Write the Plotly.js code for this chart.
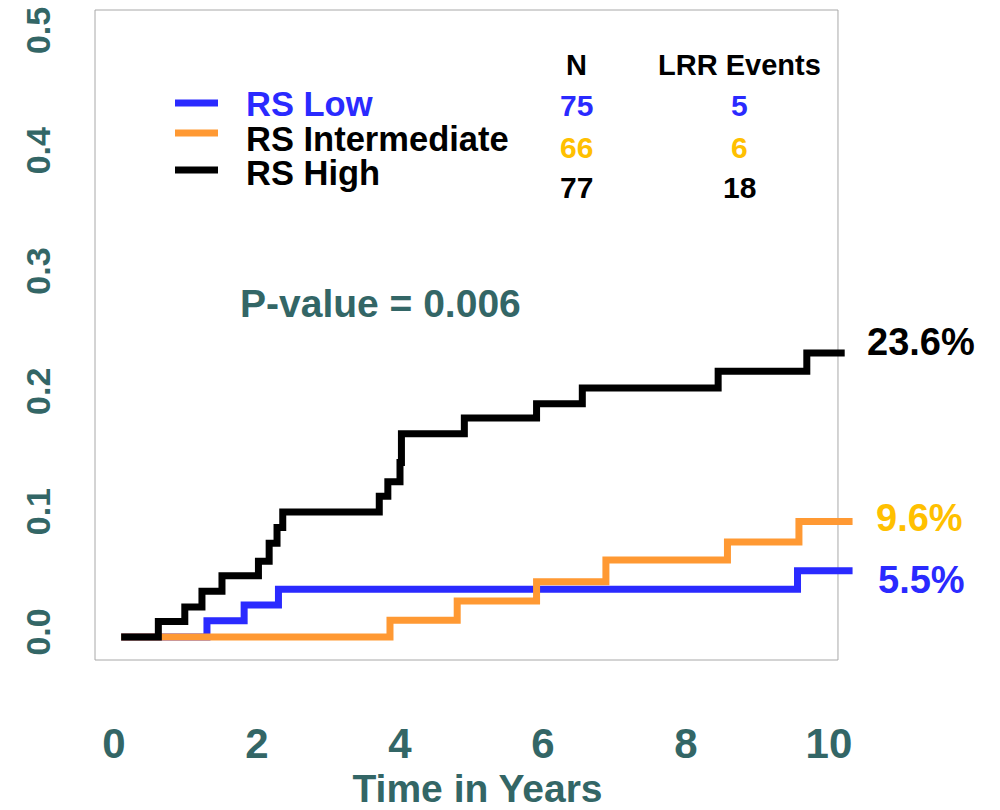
<!DOCTYPE html>
<html>
<head>
<meta charset="utf-8">
<script src="https://cdn.plot.ly/plotly-3.0.1.min.js"></script>
<style>
  html, body { margin: 0; padding: 0; background: #fff; }
  #chart { width: 1000px; height: 810px; }
</style>
</head>
<body>
<div id="chart"></div>
<script>
// Cumulative incidence of locoregional recurrence by recurrence-score group
const groupNames = ['RS Low', 'RS Intermediate', 'RS High'];
const groupN = [75, 66, 77];
const groupEvents = [5, 6, 18];
const lineColors = ['#2a2aff', '#ff9933', '#000000'];
const textColors = ['#2a2aff', '#ffc000', '#000000'];

// Step curves: time (years) and cumulative incidence after each event
const timesLow = [0.1, 1.30, 1.82, 2.30, 9.56, 10.33];
const cumLow   = [0, 0.0135, 0.0266, 0.0397, 0.055, 0.055];

const timesInt = [0.1, 3.86, 4.80, 5.91, 6.88, 8.58, 9.58, 10.33];
const cumInt   = [0, 0.014, 0.030, 0.046, 0.064, 0.079, 0.096, 0.096];

const timesHigh = [0.1, 0.62, 0.99, 1.23, 1.51, 2.02, 2.17, 2.28, 2.36, 3.71, 3.83, 4.00, 4.02, 4.90, 5.91, 6.55, 8.45, 9.69, 10.22];
const cumHigh   = [0, 0.013, 0.025, 0.038, 0.051, 0.063, 0.078, 0.091, 0.104, 0.117, 0.129, 0.145, 0.169, 0.182, 0.194, 0.207, 0.221, 0.236, 0.236];

const xTicks = [0, 2, 4, 6, 8, 10];
const yTicks = [0, 0.1, 0.2, 0.3, 0.4, 0.5];
const pValueText = 'P-value = 0.006';

const series = [
  { t: timesLow, c: cumLow },
  { t: timesInt, c: cumInt },
  { t: timesHigh, c: cumHigh }
];

const teal = '#336666';
const sans = "'Liberation Sans', Arial, sans-serif";

// plot area geometry (px)
const M = { l: 95, r: 140, t: 10, b: 150 };
const plotW = 1000 - M.l - M.r;
const plotH = 810 - M.t - M.b;
const xRange = [-0.266, 10.434];
const yRange = [-0.0191, 0.5212];
const frameRightX = 10.126;
const px = v => (v - M.l) / plotW;
const py = v => (810 - M.b - v) / plotH;

const traces = series.map((s, i) => ({
  x: s.t,
  y: s.c,
  type: 'scatter',
  mode: 'lines',
  line: { shape: 'hv', color: lineColors[i], width: 7 },
  name: groupNames[i],
  showlegend: false,
  hoverinfo: 'skip'
}));

const shapes = [
  {
    type: 'rect', xref: 'paper', yref: 'paper', layer: 'below',
    x0: 0, x1: (frameRightX - xRange[0]) / (xRange[1] - xRange[0]), y0: 0, y1: 1,
    line: { color: '#a8a8a8', width: 1 }
  }
];

const annotations = [];

// hand-drawn key
const keyLineY = [103, 133, 170];
const keyTextY = [104, 139, 173];
groupNames.forEach((name, i) => {
  shapes.push({
    type: 'line', xref: 'paper', yref: 'paper',
    x0: px(175), x1: px(218), y0: py(keyLineY[i]), y1: py(keyLineY[i]),
    line: { color: lineColors[i], width: 7 }
  });
  annotations.push({
    xref: 'paper', yref: 'paper', x: px(244), y: py(keyTextY[i]),
    xanchor: 'left', yanchor: 'middle', showarrow: false,
    text: name,
    font: { family: sans, size: 34.5, weight: 'bold', color: i === 0 ? textColors[0] : '#000' }
  });
});

// counts table
const colN = 576, colE = 739;
const headerY = 65;
const rowY = [105, 147, 187];
[['N', colN], ['LRR Events', colE]].forEach(([txt, cx]) => {
  annotations.push({
    xref: 'paper', yref: 'paper', x: px(cx), y: py(headerY),
    xanchor: 'center', yanchor: 'middle', showarrow: false, text: txt,
    font: { family: sans, size: 29, weight: 'bold', color: '#000' }
  });
});
groupNames.forEach((_, i) => {
  [[groupN[i], colN], [groupEvents[i], colE]].forEach(([val, cx]) => {
    annotations.push({
      xref: 'paper', yref: 'paper', x: px(cx), y: py(rowY[i]),
      xanchor: 'center', yanchor: 'middle', showarrow: false, text: String(val),
      font: { family: sans, size: 30, weight: 'bold', color: textColors[i] }
    });
  });
});

// p-value
annotations.push({
  xref: 'paper', yref: 'paper', x: px(380), y: py(303),
  xanchor: 'center', yanchor: 'middle', showarrow: false, text: pValueText,
  font: { family: sans, size: 39, weight: 'bold', color: teal }
});

// end-of-curve percentages
const endShift = [[23, -9], [21, 4], [20, 11]];
series.forEach((s, i) => {
  const last = s.c[s.c.length - 1];
  annotations.push({
    xref: 'x', yref: 'y', x: s.t[s.t.length - 1], y: last,
    xanchor: 'left', yanchor: 'middle', showarrow: false,
    xshift: endShift[i][0], yshift: endShift[i][1],
    text: (last * 100).toFixed(1) + '%',
    font: { family: sans, size: 38, weight: 'bold', color: textColors[i] }
  });
});

const layout = {
  width: 1000, height: 810,
  margin: M,
  paper_bgcolor: '#fff', plot_bgcolor: '#fff',
  showlegend: false,
  xaxis: {
    range: xRange, tickvals: xTicks, ticktext: xTicks.map(String),
    showgrid: false, zeroline: false, showline: false, ticks: '',
    ticklabelstandoff: 55,
    tickfont: { family: sans, size: 42, weight: 'bold', color: teal },
    title: { text: 'Time in Years', standoff: 12,
             font: { family: sans, size: 39, weight: 'bold', color: teal } }
  },
  yaxis: {
    range: yRange, tickvals: yTicks, tickformat: '.1f',
    showgrid: false, zeroline: false, showline: false, ticks: '',
    tickangle: -90, ticklabelstandoff: 37,
    tickfont: { family: sans, size: 34, weight: 'bold', color: teal }
  },
  shapes: shapes,
  annotations: annotations
};

Plotly.newPlot('chart', traces, layout, { displayModeBar: false, staticPlot: true });
</script>
</body>
</html>
